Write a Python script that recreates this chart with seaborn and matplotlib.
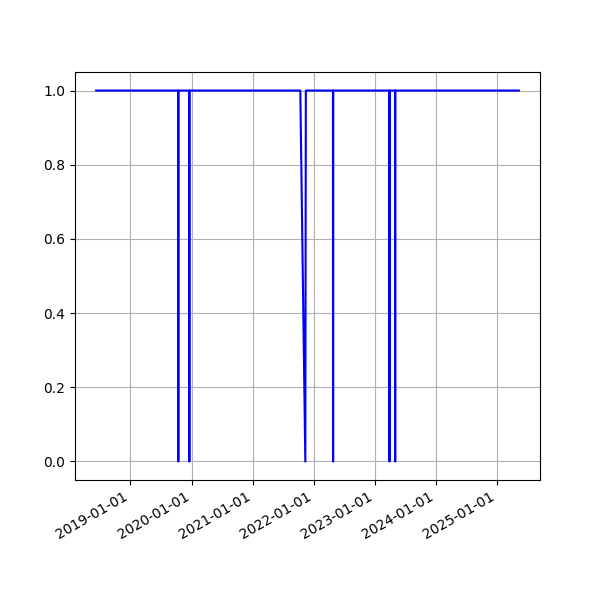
import matplotlib
matplotlib.use("Agg")
import matplotlib.pyplot as plt
import matplotlib.dates as mdates
import pandas as pd
import seaborn as sns

# Vertices of the status line (date, value)
dates = [
    "2018-06-10",
    "2019-10-13", "2019-10-14", "2019-10-15",
    "2019-12-18", "2019-12-19", "2019-12-20",
    "2021-10-12", "2021-11-11", "2021-11-14",
    "2022-04-25", "2022-04-26", "2022-04-27",
    "2023-03-28", "2023-03-29", "2023-03-30",
    "2023-05-01", "2023-05-02", "2023-05-03",
    "2025-05-10",
]
values = [
    1,
    1, 0, 1,
    1, 0, 1,
    1, 0, 1,
    1, 0, 1,
    1, 0, 1,
    1, 0, 1,
    1,
]

df = pd.DataFrame({"date": pd.to_datetime(dates), "value": values})

fig, ax = plt.subplots(figsize=(6, 6), dpi=100)
sns.lineplot(data=df, x="date", y="value", ax=ax, color="blue",
             linewidth=1.5, estimator=None, sort=False)
ax.set_xlabel("")
ax.set_ylabel("")
ax.xaxis.set_major_locator(mdates.YearLocator())
ax.xaxis.set_major_formatter(mdates.DateFormatter("%Y-%m-%d"))
ax.set_yticks([0.0, 0.2, 0.4, 0.6, 0.8, 1.0])
ax.grid(True)
fig.autofmt_xdate()
fig.savefig("out.png", dpi=100)
